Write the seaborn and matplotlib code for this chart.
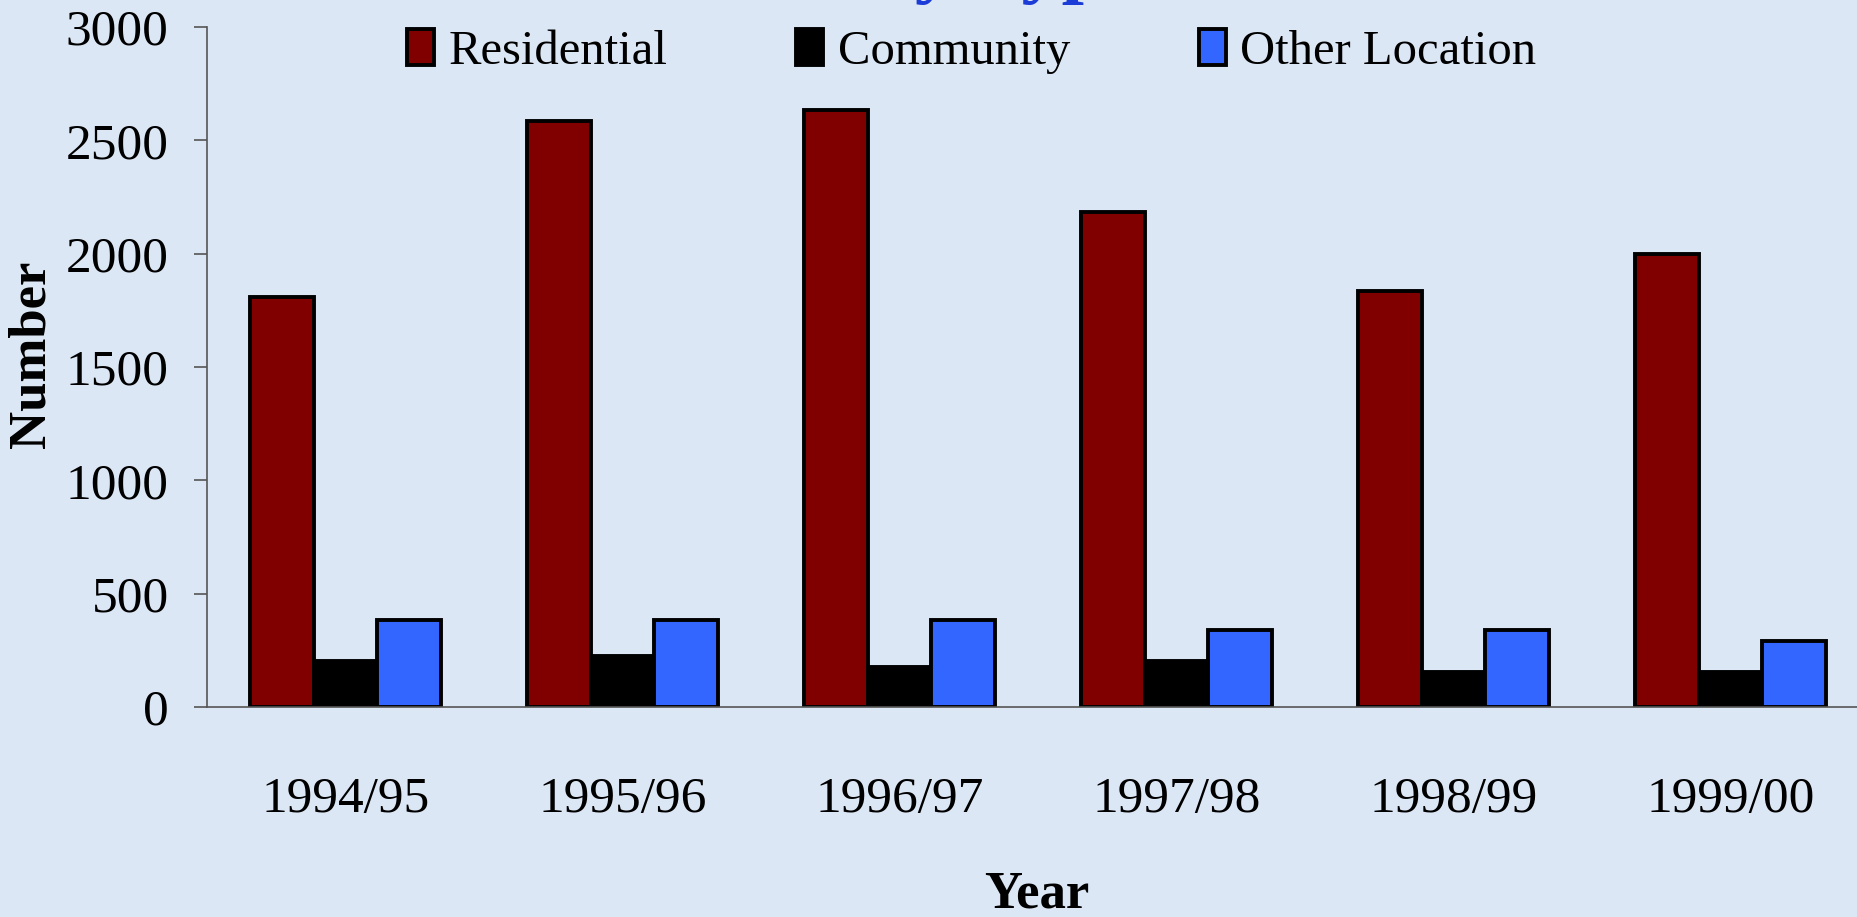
import pandas as pd
import matplotlib
matplotlib.use("Agg")
import matplotlib.pyplot as plt
import seaborn as sns

# datos
years = ["1994/95", "1995/96", "1996/97", "1997/98", "1998/99", "1999/00"]
residential = [1810, 2585, 2633, 2185, 1836, 1998]
community = [204, 224, 176, 204, 155, 155]
other_location = [385, 385, 385, 340, 340, 291]
series_names = ["Residential", "Community", "Other Location"]
colors = ["#800000", "#000000", "#3366ff"]

df = pd.DataFrame({
    "Year": years * 3,
    "Number": residential + community + other_location,
    "Type": [series_names[0]] * 6 + [series_names[1]] * 6 + [series_names[2]] * 6,
})

sns.set_theme(style="white")
plt.rcParams["font.family"] = ["Liberation Serif", "DejaVu Serif"]
plt.rcParams["text.color"] = "black"
plt.rcParams["axes.labelcolor"] = "black"
plt.rcParams["xtick.color"] = "black"
plt.rcParams["ytick.color"] = "black"

bg = "#dce7f5"
fig = plt.figure(figsize=(18.58, 9.17), dpi=100, facecolor=bg)
ax = fig.add_axes([0.1114, 0.229, 0.8945, 0.7416])
ax.set_facecolor(bg)

sns.barplot(data=df, x="Year", y="Number", hue="Type", hue_order=series_names,
            palette=colors, width=0.69, gap=0, edgecolor="black", linewidth=2.8,
            saturation=1, ax=ax)

ax.set_xlim(-0.5, 5.5)
ax.set_ylim(0, 3000)
ax.set_yticks(range(0, 3001, 500))
ax.tick_params(axis="y", labelsize=37, length=9.5, width=1.2, color="#555555",
               labelcolor="black", pad=18, left=True)
ax.tick_params(axis="x", labelsize=37, length=0, pad=50, labelcolor="black")

for s in ["top", "right"]:
    ax.spines[s].set_visible(False)
for s in ["left", "bottom"]:
    ax.spines[s].set_color("#555555")
    ax.spines[s].set_linewidth(1.2)

ax.set_xlabel("")
ax.set_ylabel("")
fig.text(0.0167, 0.614, "Number", rotation=90, ha="center", va="center",
         fontsize=38, fontweight="bold", color="black")
fig.text(0.558, 0.024, "Year", ha="center", va="center",
         fontsize=38, fontweight="bold", color="black")

# titulo cortado arriba, solo se ven las colas
fig.text(870 / 1858, 1.013, "by Type", ha="left", va="baseline",
         fontsize=58, fontweight="bold", color="#1c3cd8")

leg = ax.legend(loc="center", bbox_to_anchor=(0.523, 0.944), bbox_transform=fig.transFigure,
                ncol=3, frameon=False, fontsize=35, handlelength=0.55, handleheight=0.75,
                handletextpad=0.3, columnspacing=2.65)
for t in leg.get_texts():
    t.set_color("black")

fig.savefig("out.png", dpi=100, facecolor=bg)
